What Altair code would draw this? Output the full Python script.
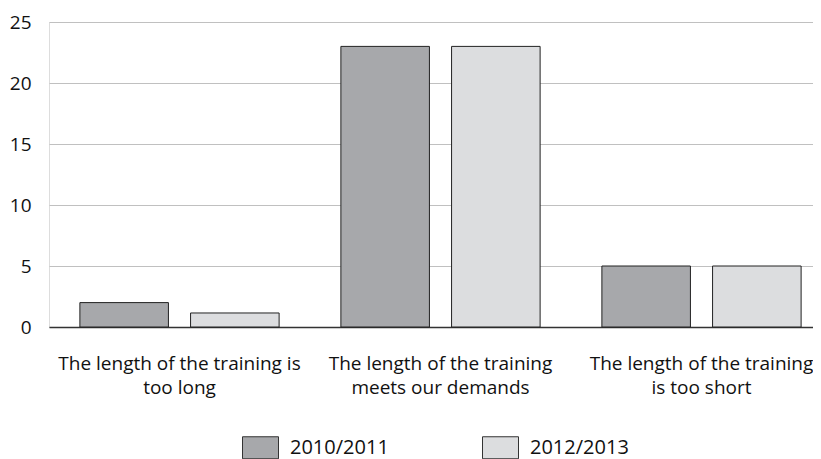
import altair as alt
import pandas as pd

categories = [
    "The length of the training is|too long",
    "The length of the training|meets our demands",
    "The length of the training|is too short",
]
years = ["2010/2011", "2012/2013"]
values_2010 = [2, 23, 5]
values_2012 = [1.15, 23, 5]
colors = ["#a7a8ab", "#dcdddf"]
y_ticks = [0, 5, 10, 15, 20, 25]

rows = []
for c, v in zip(categories, values_2010):
    rows.append({"category": c, "year": years[0], "value": v})
for c, v in zip(categories, values_2012):
    rows.append({"category": c, "year": years[1], "value": v})
df = pd.DataFrame(rows)

FONT = "Open Sans"

chart = (
    alt.Chart(df)
    .mark_bar(stroke="#222222", strokeWidth=1)
    .encode(
        x=alt.X(
            "category:N",
            sort=categories,
            scale=alt.Scale(paddingInner=0, paddingOuter=0, range=[0, 783]),
            axis=alt.Axis(
                title=None,
                labelAngle=0,
                labelExpr="split(datum.label, '|')",
                ticks=False,
                tickSize=0,
                grid=False,
                domain=True,
                domainColor="#333333",
                domainWidth=1.5,
                labelFont=FONT,
                labelFontSize=19,
                labelColor="#111111",
                labelPadding=27,
                labelLineHeight=24,
                labelLimit=400,
            ),
        ),
        xOffset=alt.XOffset(
            "year:N", sort=years, scale=alt.Scale(paddingInner=0.2, paddingOuter=0.279)
        ),
        y=alt.Y(
            "value:Q",
            scale=alt.Scale(domain=[0, 25]),
            axis=alt.Axis(
                title=None,
                values=y_ticks,
                domain=False,
                domainColor="transparent",
                domainOpacity=0,
                ticks=False,
                tickSize=0,
                tickOpacity=0,
                grid=True,
                gridColor="#c0c0c0",
                gridWidth=1.2,
                labelFont=FONT,
                labelFontSize=19,
                labelColor="#111111",
                labelPadding=18,
            ),
        ),
        color=alt.Color(
            "year:N",
            sort=years,
            scale=alt.Scale(domain=years, range=colors),
            legend=alt.Legend(
                title=None,
                orient="none",
                legendX=193,
                legendY=407,
                direction="horizontal",
                columns=2,
                columnPadding=91,
                symbolType="M-1,-0.611H1V0.611H-1Z",
                symbolSize=1296,
                symbolStrokeColor="#333333",
                symbolStrokeWidth=1,
                symbolOpacity=1,
                labelFont=FONT,
                labelFontSize=20,
                labelColor="#111111",
                labelOffset=11,
            ),
        ),
    )
    .properties(
        width=764,
        height=305,
        autosize=alt.AutoSizeParams(type="none"),
        padding={"left": 41, "top": 14, "right": 0, "bottom": 132},
    )
    .configure_view(stroke="transparent", strokeWidth=0)
    .configure_axis(domainColor="transparent", tickColor="transparent")
    .configure_axisX(domainColor="#333333")
    .configure(background="white")
)

chart.save("out.html", embed_options={"renderer": "svg", "actions": False})
